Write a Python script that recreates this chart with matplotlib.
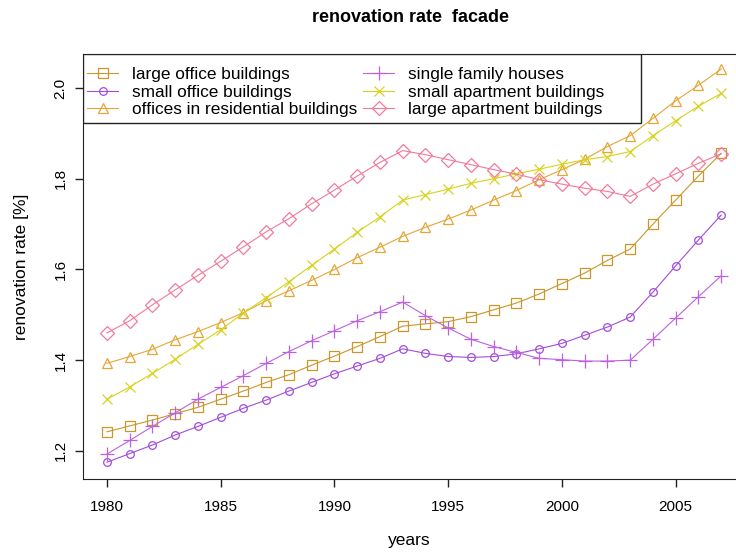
# renovation rate facade chart, R base-graphics look
import matplotlib
matplotlib.use("Agg")
import matplotlib.pyplot as plt
from matplotlib.patches import Rectangle

plt.rcParams['font.family'] = ['Liberation Sans', 'DejaVu Sans']

years = list(range(1980, 2008))

large_office = [1.242, 1.255, 1.268, 1.282, 1.296, 1.314, 1.332, 1.351, 1.368, 1.389,
                1.409, 1.430, 1.452, 1.475, 1.480, 1.485, 1.496, 1.511, 1.526, 1.546,
                1.569, 1.592, 1.620, 1.645, 1.700, 1.753, 1.806, 1.856]
small_office = [1.175, 1.194, 1.213, 1.235, 1.254, 1.274, 1.294, 1.312, 1.332, 1.351,
                1.370, 1.387, 1.404, 1.425, 1.415, 1.408, 1.406, 1.408, 1.414, 1.425,
                1.437, 1.455, 1.473, 1.495, 1.550, 1.608, 1.665, 1.720]
offices_resid = [1.393, 1.408, 1.424, 1.445, 1.463, 1.483, 1.505, 1.531, 1.553, 1.576,
                 1.600, 1.626, 1.649, 1.673, 1.693, 1.711, 1.731, 1.753, 1.774, 1.798,
                 1.820, 1.843, 1.871, 1.895, 1.933, 1.972, 2.006, 2.042]
single_family = [1.193, 1.223, 1.254, 1.284, 1.314, 1.340, 1.366, 1.393, 1.419, 1.443,
                 1.465, 1.487, 1.507, 1.528, 1.498, 1.471, 1.446, 1.430, 1.417, 1.404,
                 1.401, 1.398, 1.398, 1.400, 1.446, 1.493, 1.540, 1.586]
small_apart = [1.314, 1.341, 1.371, 1.402, 1.435, 1.467, 1.504, 1.538, 1.573, 1.609,
               1.645, 1.682, 1.716, 1.753, 1.765, 1.777, 1.790, 1.800, 1.811, 1.821,
               1.832, 1.842, 1.849, 1.860, 1.895, 1.928, 1.960, 1.988]
large_apart = [1.460, 1.487, 1.522, 1.555, 1.587, 1.618, 1.650, 1.683, 1.712, 1.745,
               1.775, 1.806, 1.836, 1.862, 1.853, 1.842, 1.831, 1.820, 1.810, 1.798,
               1.788, 1.779, 1.772, 1.761, 1.788, 1.811, 1.834, 1.855]

labels = ["large office buildings", "small office buildings",
          "offices in residential buildings", "single family houses",
          "small apartment buildings", "large apartment buildings"]

fig = plt.figure(figsize=(7.36, 5.56), dpi=100)
ax = fig.add_axes([83/736, 77/556, 653/736, 425/556])

lw = 0.8
ax.plot(years, large_office, color='#C9972B', lw=lw, marker='s', ms=6.8,
        mfc='none', mew=0.9, label=labels[0])
ax.plot(years, small_office, color='#A24CDB', lw=lw, marker='o', ms=5.5,
        mfc='none', mew=0.9, label=labels[1])
ax.plot(years, offices_resid, color='#E4A636', lw=lw, marker='^', ms=7.8,
        mfc='none', mew=0.9, label=labels[2])
ax.plot(years, single_family, color='#BC62E0', lw=lw, marker='+', ms=10,
        mew=0.9, label=labels[3])
ax.plot(years, small_apart, color='#D8D21E', lw=lw, marker='x', ms=7,
        mew=0.9, label=labels[4])
ax.plot(years, large_apart, color='#F07A9A', lw=lw, marker='D', ms=6.8,
        mfc='none', mew=0.9, label=labels[5])

ax.set_xlim(1978.945, 2007.65)
ax.set_ylim(1.138, 2.075)
ax.set_xticks([1980, 1985, 1990, 1995, 2000, 2005])
ax.set_yticks([1.2, 1.4, 1.6, 1.8, 2.0])
ax.set_yticklabels(['1.2', '1.4', '1.6', '1.8', '2.0'], rotation=90, va='center')
ax.tick_params(length=6, width=1, labelsize=11, color='#222222')
ax.tick_params(axis='x', pad=9)
ax.tick_params(axis='y', pad=5)
ax.spines['right'].set_visible(False)
for s in ['left', 'bottom', 'top']:
    ax.spines[s].set_color('#222222')

ax.set_xlabel('years', fontsize=12.5, labelpad=14)
ax.set_ylabel('renovation rate [%]', fontsize=12.5, labelpad=18)
fig.text(411/736, 1 - 18/556, 'renovation rate  facade', ha='center', va='center',
         fontsize=13, fontweight='bold')

# legend box, R style
ax.add_patch(Rectangle((0, 1 - 69/425), 558/653, 69/425, transform=ax.transAxes,
                       fill=True, facecolor='white', edgecolor='#222222', lw=1, zorder=3))
leg = ax.legend(loc='upper left', bbox_to_anchor=(4/653, 1 - 13/425), ncol=2,
                frameon=False, fontsize=12.4, handlelength=1.8, handletextpad=0.8,
                columnspacing=0.35, borderaxespad=0.0, borderpad=0.0, labelspacing=0.15)
leg.set_zorder(4)

fig.savefig('out.png', dpi=100)
